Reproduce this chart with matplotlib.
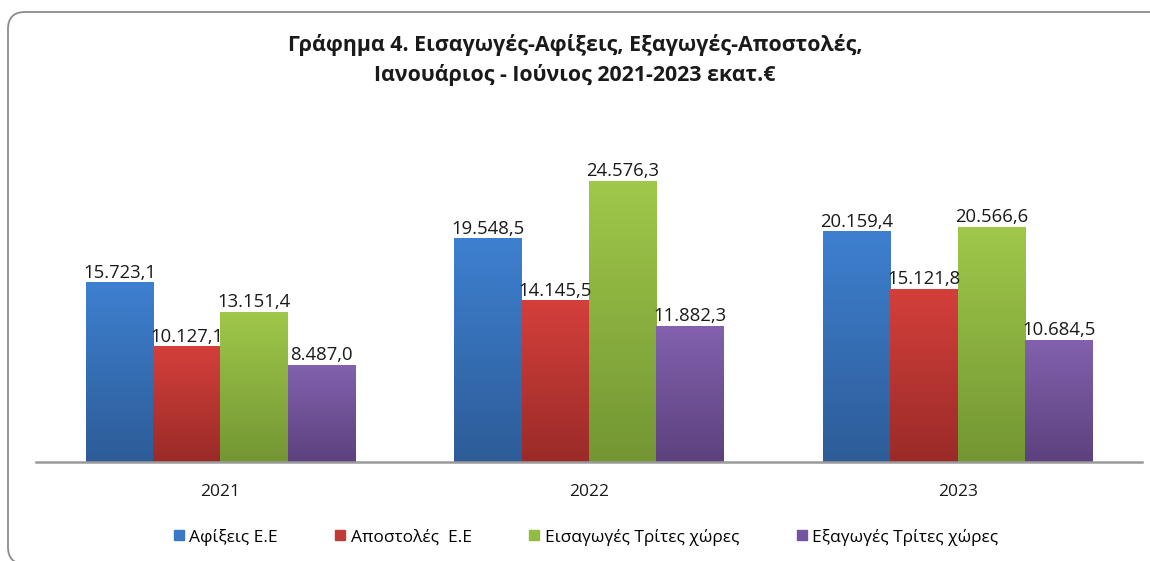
import matplotlib
matplotlib.use("Agg")
import matplotlib.pyplot as plt
import numpy as np
from matplotlib.colors import LinearSegmentedColormap
from matplotlib.lines import Line2D
from matplotlib.patches import FancyBboxPatch
from matplotlib.transforms import IdentityTransform

plt.rcParams['font.family'] = ['Open Sans', 'Noto Sans', 'DejaVu Sans']

years = ['2021', '2022', '2023']
series_names = ['Αφίξεις Ε.Ε', 'Αποστολές  Ε.Ε', 'Εισαγωγές Τρίτες χώρες', 'Εξαγωγές Τρίτες χώρες']
arrivals_eu = [15723.1, 19548.5, 20159.4]
dispatches_eu = [10127.1, 14145.5, 15121.8]
imports_third = [13151.4, 24576.3, 20566.6]
exports_third = [8487.0, 11882.3, 10684.5]
all_series = [arrivals_eu, dispatches_eu, imports_third, exports_third]

# (top colour, bottom colour) for the gradient fill
grad_colors = [('#3E80D0', '#2D5C98'),
               ('#D43F3B', '#9A2B28'),
               ('#A0C84A', '#739633'),
               ('#8361AE', '#5C417E')]
legend_colors = ['#3A78C4', '#C23A36', '#93BA42', '#7454A0']


def fmt_gr(v):
    s = f"{v:,.1f}"
    return s.replace(',', 'X').replace('.', ',').replace('X', '.')


fig = plt.figure(figsize=(11.5, 5.61), dpi=100)
W, H = 1150, 561
ax = fig.add_axes([36 / W, 1 - 462 / H, (1142 - 36) / W, (462 - 100) / H])

x = np.arange(len(years))
bw = 0.1825
offsets = (np.arange(4) - 1.5) * bw
grad = np.linspace(1, 0, 256).reshape(-1, 1)

for i, vals in enumerate(all_series):
    top_c, bot_c = grad_colors[i]
    cmap = LinearSegmentedColormap.from_list(f'g{i}', [bot_c, top_c])
    bars = ax.bar(x + offsets[i], vals, width=bw, color='none', edgecolor='none')
    for b, v in zip(bars, vals):
        x0, y0 = b.get_x(), b.get_y()
        im = ax.imshow(grad, cmap=cmap, aspect='auto', vmin=0, vmax=1,
                       extent=[x0, x0 + b.get_width(), y0, y0 + b.get_height()],
                       zorder=2)
        im.set_clip_path(b)
        ax.text(x0 + b.get_width() / 2, v + 60, fmt_gr(v), ha='center', va='bottom',
                fontsize=13.3, color='#1a1a1a', zorder=3)

ax.set_xlim(-0.5, 2.5)
ax.set_ylim(0, 31660)
for s in ['top', 'right', 'left']:
    ax.spines[s].set_visible(False)
ax.spines['bottom'].set_color('#9A9A9A')
ax.spines['bottom'].set_linewidth(1.8)
ax.set_yticks([])
ax.set_xticks(x)
ax.set_xticklabels(years, fontsize=12.5, color='#1a1a1a')
ax.tick_params(axis='x', length=0, pad=16)

fig.text(0.5, 1 - 45 / H, 'Γράφημα 4. Εισαγωγές-Αφίξεις, Εξαγωγές-Αποστολές,',
         ha='center', va='center', fontsize=15.4, fontweight='bold', color='#1a1a1a')
fig.text(0.5, 1 - 75 / H, 'Ιανουάριος - Ιούνιος 2021-2023 εκατ.€',
         ha='center', va='center', fontsize=15.4, fontweight='bold', color='#1a1a1a')

handles = [Line2D([], [], marker='s', linestyle='none', markersize=6.5,
                  markerfacecolor=c, markeredgecolor=c) for c in legend_colors]
fig.legend(handles, series_names, loc='center', bbox_to_anchor=(586 / W, 1 - 537 / H),
           ncol=4, frameon=False, fontsize=12.5, handlelength=0.6, handletextpad=0.3,
           columnspacing=3.3)

border = FancyBboxPatch((8, -3), 1160, 552, boxstyle='round,pad=0,rounding_size=17',
                        transform=IdentityTransform(), facecolor='none',
                        edgecolor='#8C8C8C', linewidth=1.3)
fig.patches.append(border)

fig.savefig('out.png', dpi=100)
